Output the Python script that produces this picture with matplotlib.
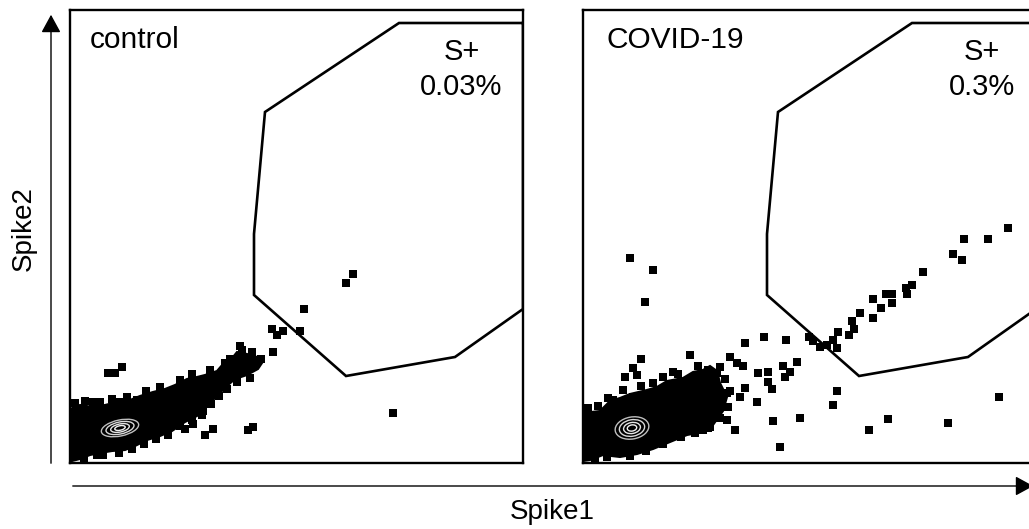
import matplotlib
matplotlib.use('Agg')
import matplotlib.pyplot as plt
from matplotlib.patches import Polygon, Ellipse, FancyArrowPatch

plt.rcParams['font.family'] = ['Liberation Sans', 'DejaVu Sans']

# ---------------- data (fluorescence channel units, 0..453 on both axes) ---
panel_titles = ['control', 'COVID-19']
gate_label = 'S+'
gate_pct = ['0.03%', '0.3%']
x_label = 'Spike1'
y_label = 'Spike2'
axis_max = 453

# S+ gate (same gate applied to both samples)
gate_x = [453, 329, 195, 184, 184, 276, 385, 453]
gate_y = [440, 440, 351, 229, 168, 87, 106, 154]

# control: dense population outline
ctrl_blob_x = [0, 10, 23, 35, 47, 60, 70, 83, 95, 105, 117, 127, 135, 147, 153, 163,
               167, 177, 187, 192, 188, 177, 165, 157, 150, 143, 135, 127, 115, 102,
               90, 77, 65, 55, 42, 30, 20, 10, 2, 0]
ctrl_blob_y = [54, 58, 56, 58, 61, 63, 67, 71, 74, 78, 84, 86, 88, 92, 99, 106,
               111, 109, 106, 100, 94, 88, 84, 77, 70, 63, 55, 47, 41, 32,
               27, 23, 17, 13, 12, 10, 8, 4, 2, 2]
# control: individual events
ctrl_x = [38, 45, 52, 23, 50, 67, 170, 155, 203, 207, 132, 123, 115, 143, 135, 178,
          183, 27, 7, 234, 283, 276, 202, 213, 230, 323,
          5, 15, 30, 42, 57, 76, 90, 110, 122, 140, 160, 172, 182, 191,
          14, 33, 49, 62, 74, 86, 98, 110, 122, 133, 141, 149, 157, 167, 180]
ctrl_y = [90, 90, 96, 61, 61, 63, 117, 100, 111, 128, 48, 39, 34, 34, 28, 33,
          36, 8, 8, 154, 189, 180, 134, 132, 132, 50,
          60, 62, 61, 64, 66, 72, 76, 83, 89, 93, 104, 113, 111, 104,
          4, 8, 10, 14, 19, 24, 28, 37, 43, 52, 59, 67, 74, 81, 85]

# COVID-19: dense population outline
covid_blob_x = [0, 17, 27, 37, 47, 64, 74, 84, 100, 110, 120, 127, 134, 137, 144,
                140, 130, 120, 104, 87, 70, 54, 37, 20, 7, 0]
covid_blob_y = [50, 52, 62, 65, 69, 73, 76, 82, 85, 91, 93, 97, 92, 80, 66,
                52, 38, 31, 28, 21, 14, 9, 6, 8, 3, 2]
# COVID-19: individual events
covid_x = [425, 405, 381, 370, 379, 340, 329, 323, 324, 309, 303, 309, 290, 298, 277,
           269, 290, 271, 266, 255, 250, 254, 244, 237, 230, 226, 181, 203, 162, 147,
           154, 160, 214, 200, 207, 202, 185, 175, 185, 189, 162, 174, 254, 250, 190,
           217, 286, 305, 365, 416, 197, 152, 144, 125, 134, 125, 144, 157, 119, 107,
           58, 50, 42, 54, 90, 40, 30, 37, 50, 120, 127, 94, 24, 47, 70, 62,
           5, 15, 25, 58, 70, 80, 95, 115, 137, 142, 147,
           145, 137, 112, 98, 80, 63, 47, 12]
covid_y = [235, 224, 224, 209, 203, 191, 178, 175, 169, 169, 169, 160, 164, 155, 150,
           142, 145, 134, 128, 131, 123, 115, 118, 116, 122, 126, 126, 123, 120, 106,
           100, 97, 101, 97, 91, 86, 91, 90, 81, 74, 75, 61, 72, 58, 42,
           45, 33, 44, 40, 66, 16, 33, 43, 35, 90, 93, 70, 66, 86, 108,
           104, 95, 86, 88, 91, 73, 63, 61, 66, 33, 36, 31, 6, 205, 193, 161,
           55, 57, 65, 77, 80, 86, 89, 97, 96, 84, 72,
           56, 45, 30, 26, 19, 12, 7, 4]

# density contour core (centre x, centre y, width, height, angle)
ctrl_core = (50, 35, 38, 16, 12)
covid_core = (49, 35, 34, 22, 10)

panels = [
    (panel_titles[0], gate_pct[0], ctrl_blob_x, ctrl_blob_y, ctrl_x, ctrl_y, ctrl_core),
    (panel_titles[1], gate_pct[1], covid_blob_x, covid_blob_y, covid_x, covid_y, covid_core),
]

# ---------------- figure ----------------------------------------------------
W, H = 1029, 529
fig = plt.figure(figsize=(W / 100, H / 100), dpi=100)
fig.patch.set_facecolor('white')

ax_lefts = [70, 583]
title_x = [0.044, 0.051]
gate_text_x = [0.864, 0.880]

for i, (title, pct, bx, by, ex, ey, core) in enumerate(panels):
    ax = fig.add_axes([ax_lefts[i] / W, (H - 463) / H, 453 / W, 453 / H])
    ax.set_xlim(0, axis_max)
    ax.set_ylim(0, axis_max)
    ax.set_xticks([])
    ax.set_yticks([])
    for s in ax.spines.values():
        s.set_linewidth(1.7)
        s.set_color('black')

    ax.add_patch(Polygon(list(zip(bx, by)), closed=True, facecolor='black',
                         edgecolor='black', lw=1.5, zorder=2))
    ax.scatter(ex, ey, marker='s', s=26, color='black', linewidths=0, zorder=3)

    cx, cy, cw, ch, ang = core
    for f, ec in [(1.0, '0.75'), (0.75, '0.85'), (0.5, '0.9'), (0.28, '0.95')]:
        ax.add_patch(Ellipse((cx, cy), cw * f, ch * f, angle=ang, facecolor='none',
                             edgecolor=ec, lw=1.0, zorder=4))

    ax.plot(gate_x + [gate_x[0]], gate_y + [gate_y[0]], color='black', lw=1.9,
            solid_joinstyle='miter', zorder=5, clip_on=True)

    ax.text(title_x[i], 0.916, title, transform=ax.transAxes, fontsize=21.5,
            ha='left', va='baseline')
    ax.text(gate_text_x[i], 0.890, gate_label, transform=ax.transAxes, fontsize=21,
            ha='center', va='baseline')
    ax.text(gate_text_x[i], 0.812, pct, transform=ax.transAxes, fontsize=21,
            ha='center', va='baseline')

# axis arrows
ya = FancyArrowPatch((51, H - 466), (51, H - 12), transform=None,
                     arrowstyle='-|>,head_length=11,head_width=6',
                     mutation_scale=1, lw=1.0, color='black')
fig.patches.append(ya)
xa = FancyArrowPatch((70, H - 486), (1036, H - 486), transform=None,
                     arrowstyle='-|>,head_length=11,head_width=6',
                     mutation_scale=1, lw=1.0, color='black')
fig.patches.append(xa)

fig.text(24 / W, (H - 229) / H, y_label, rotation=90, fontsize=20,
         ha='center', va='center')
fig.text(552 / W, (H - 512) / H, x_label, fontsize=20, ha='center', va='center')

fig.savefig('out.png', dpi=100, facecolor='white')
